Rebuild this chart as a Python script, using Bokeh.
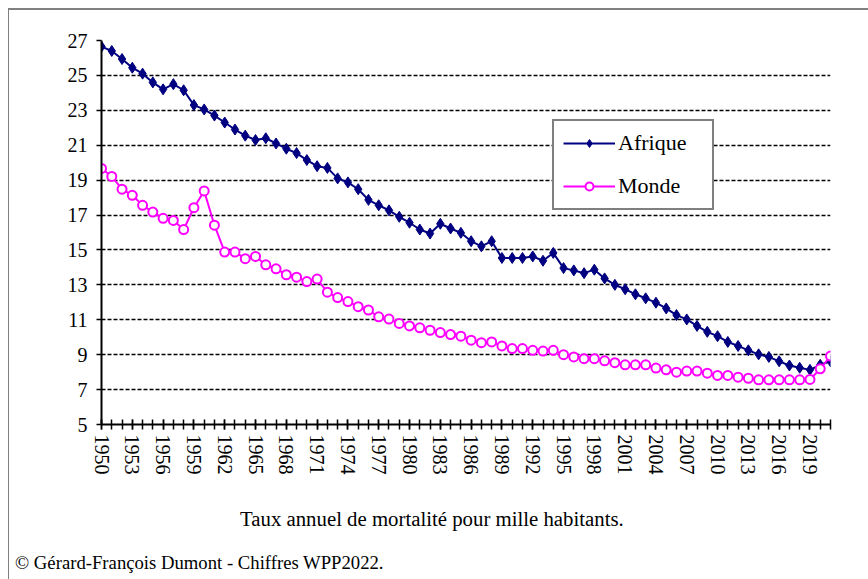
from bokeh.plotting import figure
from bokeh.layouts import column
from bokeh.models import Range1d, FixedTicker, Legend, LegendItem, Div
from bokeh.embed import file_html
from bokeh.resources import INLINE

years = list(range(1950, 2022))
afrique = [26.65, 26.4, 25.94, 25.44, 25.1, 24.6, 24.2, 24.5, 24.15, 23.3,
           23.05, 22.7, 22.3, 21.9, 21.55, 21.3, 21.4, 21.1, 20.8, 20.55,
           20.15, 19.8, 19.7, 19.1, 18.87, 18.48, 17.87, 17.56, 17.27, 16.9,
           16.56, 16.17, 15.94, 16.5, 16.23, 15.98, 15.5, 15.21, 15.5, 14.54,
           14.54, 14.54, 14.63, 14.38, 14.83, 13.96, 13.83, 13.67, 13.87, 13.37,
           13.0, 12.75, 12.46, 12.23, 11.98, 11.65, 11.27, 11.02, 10.65, 10.31,
           10.06, 9.73, 9.5, 9.25, 9.02, 8.87, 8.62, 8.38, 8.25, 8.13,
           8.42, 8.62]
monde = [19.67, 19.21, 18.48, 18.13, 17.56, 17.17, 16.81, 16.69, 16.17, 17.42,
         18.38, 16.42, 14.88, 14.88, 14.5, 14.63, 14.15, 13.92, 13.58, 13.44,
         13.19, 13.33, 12.58, 12.27, 12.04, 11.75, 11.56, 11.17, 11.04, 10.79,
         10.65, 10.54, 10.4, 10.27, 10.15, 10.06, 9.83, 9.69, 9.73, 9.5,
         9.35, 9.35, 9.25, 9.21, 9.25, 9.0, 8.87, 8.77, 8.77, 8.65,
         8.54, 8.42, 8.42, 8.42, 8.23, 8.13, 8.0, 8.06, 8.06, 7.94,
         7.81, 7.81, 7.71, 7.65, 7.56, 7.56, 7.56, 7.56, 7.56, 7.58,
         8.19, 8.92]
y_ticks = [5, 7, 9, 11, 13, 15, 17, 19, 21, 23, 25, 27]
x_label_years = list(range(1950, 2020, 3))
series_names = ["Afrique", "Monde"]
caption = "Taux annuel de mortalité pour mille habitants."
credit = "© Gérard-François Dumont - Chiffres WPP2022."

FONT = "Liberation Serif"
NAVY = "#000080"
MAGENTA = "#FF00FF"

p = figure(width=858, height=474, output_backend="svg", toolbar_location=None,
           x_range=Range1d(years[0], years[-1]), y_range=Range1d(y_ticks[0], y_ticks[-1]),
           min_border_left=92, min_border_top=30, min_border_right=37, min_border_bottom=60)
p.outline_line_color = None
p.background_fill_color = "white"
p.border_fill_color = "white"

# axes
xa = p.xaxis[0]
xa.ticker = FixedTicker(ticks=x_label_years, minor_ticks=years)
xa.major_label_orientation = "vertical"
xa.major_label_text_font = FONT
xa.major_label_text_font_size = "20px"
xa.major_label_text_color = "black"
xa.major_label_standoff = 5
xa.axis_line_color = "black"
xa.axis_line_width = 2
xa.major_tick_line_color = "black"
xa.major_tick_line_width = 1.5
xa.major_tick_in = 5
xa.major_tick_out = 5
xa.minor_tick_line_color = "black"
xa.minor_tick_line_width = 1.5
xa.minor_tick_in = 5
xa.minor_tick_out = 5

ya = p.yaxis[0]
ya.ticker = FixedTicker(ticks=y_ticks, minor_ticks=[])
ya.major_label_text_font = FONT
ya.major_label_text_font_size = "20px"
ya.major_label_text_color = "black"
ya.major_label_standoff = 9
ya.axis_line_color = "black"
ya.axis_line_width = 2
ya.major_tick_line_color = "black"
ya.major_tick_line_width = 1.5
ya.major_tick_in = 0
ya.major_tick_out = 5
ya.minor_tick_line_color = None

p.xgrid.visible = False
p.ygrid.ticker = FixedTicker(ticks=y_ticks, minor_ticks=[])
p.ygrid.grid_line_color = "black"
p.ygrid.grid_line_dash = "4 2"
p.ygrid.grid_line_width = 1.5

# series
a_line = p.line(years, afrique, line_color=NAVY, line_width=2)
a_pts = p.scatter(years, afrique, marker="diamond", size=11, fill_color=NAVY, line_color=NAVY)
m_line = p.line(years, monde, line_color=MAGENTA, line_width=2)
m_pts = p.scatter(years, monde, marker="circle", size=9, fill_color="white",
                  line_color=MAGENTA, line_width=2)

legend = Legend(items=[LegendItem(label=series_names[0], renderers=[a_line, a_pts]),
                       LegendItem(label=series_names[1], renderers=[m_line, m_pts])],
                location=(451, 214))
legend.label_text_font = FONT
legend.label_text_font_size = "22px"
legend.label_text_color = "black"
legend.border_line_color = "black"
legend.border_line_width = 2
legend.background_fill_color = "white"
legend.background_fill_alpha = 1
legend.padding = 9
legend.spacing = 17
legend.glyph_width = 52
legend.glyph_height = 20
legend.label_height = 20
legend.label_width = 85
legend.label_standoff = 3
legend.margin = 0
p.add_layout(legend)

div = Div(width=858, height=94, text=(
    f'<div style="position:relative;width:858px;height:94px;font-family:\'{FONT}\';'
    f'color:black;">'
    f'<div style="position:absolute;left:226px;top:18px;line-height:24px;font-size:20.8px;'
    f'white-space:nowrap;">{caption}</div>'
    f'<div style="position:absolute;left:1px;top:62px;line-height:24px;font-size:18.7px;'
    f'white-space:nowrap;">{credit}</div>'
    f'</div>'))

layout = column(p, div, spacing=0,
                styles={"margin-left": "8px", "margin-top": "8px",
                        "border-top": "2px solid #808080", "border-left": "1px solid #808080"})

open("out.html", "w").write(file_html(layout, INLINE))
